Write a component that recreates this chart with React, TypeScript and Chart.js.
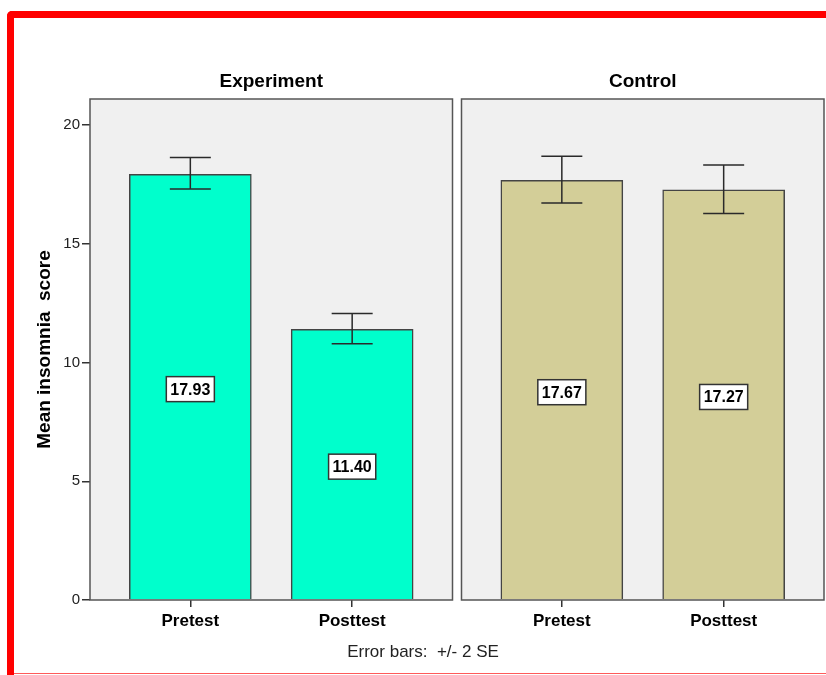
import { useEffect, useRef } from 'react';
import { Chart, registerables } from 'chart.js';
Chart.register(...registerables);

const GROUPS = ['Experiment', 'Control'];
const CATEGORIES = ['Pretest', 'Posttest'];
const EXPERIMENT_MEANS = [17.93, 11.4];
const CONTROL_MEANS = [17.67, 17.27];
const EXPERIMENT_LOW = [17.31, 10.79];
const EXPERIMENT_HIGH = [18.64, 12.07];
const CONTROL_LOW = [16.72, 16.28];
const CONTROL_HIGH = [18.69, 18.32];
const Y_TICKS = [0, 5, 10, 15, 20];
const Y_MAX = 21.1;
const Y_TITLE = 'Mean insomnia  score';
const FOOTNOTE = 'Error bars:  +/- 2 SE';
const GROUP_COLORS = ['#00ffcc', '#d3ce98'];

const MEANS = [EXPERIMENT_MEANS, CONTROL_MEANS];
const LOWS = [EXPERIMENT_LOW, CONTROL_LOW];
const HIGHS = [EXPERIMENT_HIGH, CONTROL_HIGH];

// layout (x units: one unit between bar centres inside a panel)
const PANEL_MARGIN = 0.62;
const PANEL_SPAN = 1 + 2 * PANEL_MARGIN;
const PANEL_GAP = 0.0556;
const pos = (g: number, i: number) => g * (PANEL_SPAN + PANEL_GAP) + i;
const X_MIN = -PANEL_MARGIN;
const X_MAX = X_MIN + GROUPS.length * PANEL_SPAN + (GROUPS.length - 1) * PANEL_GAP;

const FONT = "'Liberation Sans', Arial, sans-serif";

export default function App() {
  const ref = useRef<HTMLCanvasElement | null>(null);

  useEffect(() => {
    if (!ref.current) return;
    Chart.defaults.font.family = FONT;

    const points: { x: number; y: number }[] = [];
    const colors: string[] = [];
    const lows: number[] = [];
    const highs: number[] = [];
    GROUPS.forEach((_, g) => {
      CATEGORIES.forEach((__, i) => {
        points.push({ x: pos(g, i), y: MEANS[g][i] });
        colors.push(GROUP_COLORS[g]);
        lows.push(LOWS[g][i]);
        highs.push(HIGHS[g][i]);
      });
    });

    const panelPlugin = {
      id: 'panels',
      beforeDatasetsDraw(chart: any) {
        const { ctx, chartArea, scales } = chart;
        const xs = scales.x;
        ctx.save();
        GROUPS.forEach((name, g) => {
          const x0 = xs.getPixelForValue(pos(g, 0) - PANEL_MARGIN);
          const x1 = xs.getPixelForValue(pos(g, 0) - PANEL_MARGIN + PANEL_SPAN);
          ctx.fillStyle = '#f0f0f0';
          ctx.fillRect(x0, chartArea.top, x1 - x0, chartArea.bottom - chartArea.top);
          ctx.fillStyle = '#000';
          ctx.font = `bold 19px ${FONT}`;
          ctx.textAlign = 'center';
          ctx.textBaseline = 'middle';
          ctx.fillText(name, (x0 + x1) / 2, 82);
        });
        // y title
        ctx.save();
        ctx.translate(45, (chartArea.top + chartArea.bottom) / 2);
        ctx.rotate(-Math.PI / 2);
        ctx.font = `bold 19px ${FONT}`;
        ctx.fillStyle = '#000';
        ctx.textAlign = 'center';
        ctx.textBaseline = 'middle';
        ctx.fillText(Y_TITLE, 0, 0);
        ctx.restore();
        // footnote
        ctx.font = `17px ${FONT}`;
        ctx.fillStyle = '#222';
        ctx.textAlign = 'center';
        ctx.textBaseline = 'middle';
        ctx.fillText(FOOTNOTE, 423, 652);
        ctx.restore();
      },
      afterDatasetsDraw(chart: any) {
        const { ctx, chartArea, scales } = chart;
        const xs = scales.x;
        const ys = scales.y;
        ctx.save();
        // error bars
        ctx.strokeStyle = '#2a2a2a';
        ctx.lineWidth = 1.5;
        points.forEach((p, k) => {
          const cx = xs.getPixelForValue(p.x);
          const yl = ys.getPixelForValue(lows[k]);
          const yh = ys.getPixelForValue(highs[k]);
          ctx.beginPath();
          ctx.moveTo(cx, yl);
          ctx.lineTo(cx, yh);
          ctx.moveTo(cx - 20.5, yl);
          ctx.lineTo(cx + 20.5, yl);
          ctx.moveTo(cx - 20.5, yh);
          ctx.lineTo(cx + 20.5, yh);
          ctx.stroke();
        });
        // value labels
        ctx.font = `bold 16px ${FONT}`;
        ctx.textAlign = 'center';
        ctx.textBaseline = 'middle';
        points.forEach((p) => {
          const cx = xs.getPixelForValue(p.x);
          const cy = ys.getPixelForValue(p.y / 2) + 2;
          const txt = p.y.toFixed(2);
          const w = ctx.measureText(txt).width + 8;
          const h = 25;
          ctx.fillStyle = '#fff';
          ctx.fillRect(cx - w / 2, cy - h / 2, w, h);
          ctx.strokeStyle = '#333';
          ctx.lineWidth = 1.5;
          ctx.strokeRect(cx - w / 2, cy - h / 2, w, h);
          ctx.fillStyle = '#000';
          ctx.fillText(txt, cx, cy + 1);
        });
        // panel frames
        ctx.strokeStyle = '#555';
        ctx.lineWidth = 1.5;
        GROUPS.forEach((_, g) => {
          const x0 = xs.getPixelForValue(pos(g, 0) - PANEL_MARGIN);
          const x1 = xs.getPixelForValue(pos(g, 0) - PANEL_MARGIN + PANEL_SPAN);
          ctx.strokeRect(x0, chartArea.top, x1 - x0, chartArea.bottom - chartArea.top);
        });
        ctx.restore();
      },
    };

    const chart = new Chart(ref.current, {
      type: 'bar',
      data: {
        datasets: [
          {
            data: points as any,
            backgroundColor: colors,
            borderColor: '#444',
            borderWidth: 1.5,
            barThickness: 122,
          },
        ],
      },
      options: {
        animation: false,
        responsive: false,
        layout: { padding: { top: 99, right: 2, left: 0, bottom: 0 } },
        plugins: { legend: { display: false }, tooltip: { enabled: false } },
        scales: {
          x: {
            type: 'linear',
            offset: false,
            min: X_MIN,
            max: X_MAX,
            afterBuildTicks: (s: any) => {
              s.ticks = points.map((p) => ({ value: p.x }));
            },
            afterFit: (s: any) => {
              s.height = 75;
            },
            grid: { offset: false, drawOnChartArea: false, drawTicks: true, tickLength: 7, color: '#333', lineWidth: 1.5 },
            border: { display: false },
            ticks: {
              autoSkip: false,
              maxRotation: 0,
              padding: 4,
              color: '#000',
              font: { size: 17, weight: 'bold', family: FONT },
              callback: (_v: any, idx: number) => CATEGORIES[idx % CATEGORIES.length],
            },
          },
          y: {
            min: 0,
            max: Y_MAX,
            afterBuildTicks: (s: any) => {
              s.ticks = Y_TICKS.map((v) => ({ value: v }));
            },
            afterFit: (s: any) => {
              s.width = 90;
            },
            grid: { drawOnChartArea: false, drawTicks: true, tickLength: 8, color: '#333', lineWidth: 1.5 },
            border: { display: false },
            ticks: {
              padding: 2,
              color: '#222',
              font: { size: 15, family: FONT },
            },
          },
        },
      },
      plugins: [panelPlugin],
    } as any);

    return () => chart.destroy();
  }, []);

  return (
    <div style={{ position: 'fixed', left: 0, top: 0, width: 826, height: 675, background: '#fff', overflow: 'hidden' }}>
      <div
        style={{
          position: 'absolute',
          left: 7,
          top: 11,
          width: 900,
          height: 700,
          borderTop: '7px solid #ff0000',
          borderLeft: '7px solid #ff0000',
          borderTopLeftRadius: 5,
          boxSizing: 'border-box',
        }}
      />
      <div style={{ position: 'absolute', left: 14, top: 673, width: 812, height: 1, background: '#ff5a5a' }} />
      <canvas ref={ref} width={826} height={675} style={{ position: 'absolute', left: 0, top: 0, display: 'block' }} />
    </div>
  );
}
